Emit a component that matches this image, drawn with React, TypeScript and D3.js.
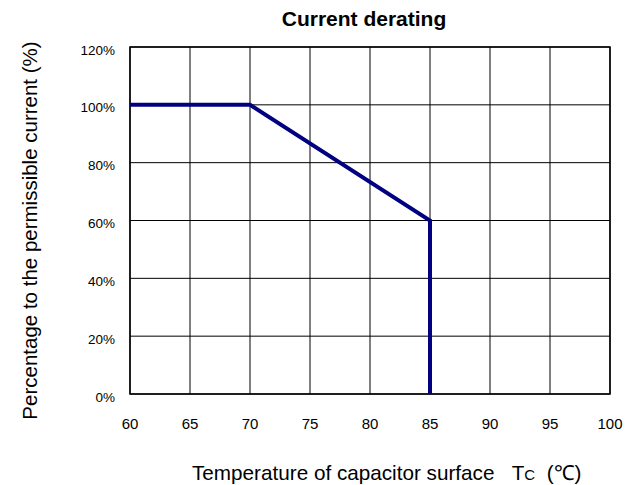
import React from "react";
import * as d3 from "d3";

const temps = [60, 70, 85, 85];
const percents = [100, 100, 60, 0];
const xTicks = [60, 65, 70, 75, 80, 85, 90, 95, 100];
const yTicks = [0, 20, 40, 60, 80, 100, 120];

const W = 638;
const H = 485;
const left = 130, right = 610, top = 47, bottom = 394;

export default function App() {
  const x = d3.scaleLinear().domain([60, 100]).range([left, right]);
  const y = d3.scaleLinear().domain([0, 120]).range([bottom, top]);
  const pts = temps.map((t, i) => [t, percents[i]] as [number, number]);
  const line = d3
    .line<[number, number]>()
    .x((d) => x(d[0]))
    .y((d) => y(d[1]));

  return (
    <svg
      width={W}
      height={H}
      style={{ position: "absolute", left: 0, top: 0, fontFamily: "Liberation Sans, Arial, sans-serif" }}
    >
      <rect width={W} height={H} fill="#fff" />
      <text x={364} y={26} textAnchor="middle" fontSize={21} fontWeight="bold">
        Current derating
      </text>
      {xTicks.map((t) => (
        <line key={"gx" + t} x1={x(t)} x2={x(t)} y1={top} y2={bottom} stroke="#000" strokeWidth={1} />
      ))}
      {yTicks.map((t) => (
        <line key={"gy" + t} x1={left} x2={right} y1={y(t)} y2={y(t)} stroke="#000" strokeWidth={1} />
      ))}
      <rect x={left} y={top} width={right - left} height={bottom - top} fill="none" stroke="#000" strokeWidth={1.5} />
      <path d={line(pts) || ""} fill="none" stroke="#000080" strokeWidth={4} strokeLinejoin="miter" />
      {yTicks.map((t) => (
        <text key={"ly" + t} x={115} y={y(t) + 7.5} textAnchor="end" fontSize={13.5}>
          {t + "%"}
        </text>
      ))}
      {xTicks.map((t) => (
        <text key={"lx" + t} x={x(t)} y={429} textAnchor="middle" fontSize={15}>
          {t}
        </text>
      ))}
      <text x={192} y={480} textAnchor="start" fontSize={20.7}>
        {"Temperature of capacitor surface\u00a0\u00a0\u00a0T"}
        <tspan fontSize={15}>C</tspan>
        {"\u00a0\u00a0(℃)"}
      </text>
      <text
        transform={`translate(37, ${(top + bottom) / 2 + 10}) rotate(-90)`}
        textAnchor="middle"
        fontSize={20.5}
      >
        Percentage to the permissible current (%)
      </text>
    </svg>
  );
}
